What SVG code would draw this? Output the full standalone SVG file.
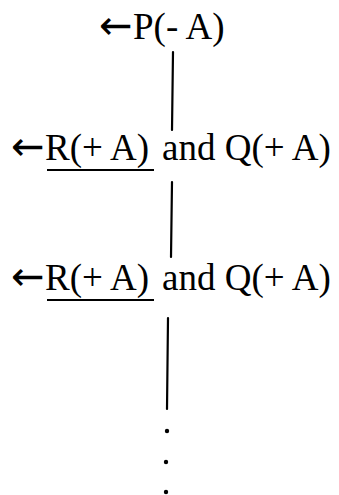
<svg xmlns="http://www.w3.org/2000/svg" width="339" height="495" viewBox="0 0 339 495">
<style>
.t{font-family:"Liberation Serif","Times New Roman",serif;font-size:37px;fill:#000}
.a{font-family:"DejaVu Sans",sans-serif;font-size:40px}
.c{stroke:#000;stroke-width:2.2;fill:none;stroke-linecap:round}
.u{stroke:#000;stroke-width:2}
.d{fill:#000}
</style>
<rect width="339" height="495" fill="#fff"/>
<g id="node1">
<text class="t" y="39"><tspan class="a" x="99">←</tspan><tspan x="133">P(- A)</tspan></text>
</g>
<g id="node2">
<text class="t" y="160"><tspan class="a" x="11">←</tspan><tspan x="45">R(+ A)</tspan><tspan x="162">and Q(+ A)</tspan></text>
<line class="u" x1="47" y1="170" x2="154" y2="170"/>
</g>
<g id="node3">
<text class="t" y="290"><tspan class="a" x="11">←</tspan><tspan x="45">R(+ A)</tspan><tspan x="162">and Q(+ A)</tspan></text>
<line class="u" x1="47" y1="300" x2="154" y2="300"/>
</g>
<g id="node4">
<circle class="d" cx="167" cy="431" r="2.2"/>
<circle class="d" cx="166" cy="462" r="2.2"/>
<circle class="d" cx="166" cy="492" r="2.2"/>
</g>
<g id="connectors">
<line class="c" x1="173" y1="52" x2="172" y2="130"/>
<line class="c" x1="172" y1="182" x2="171" y2="257"/>
<line class="c" x1="168" y1="318" x2="167" y2="409"/>
</g>
</svg>
